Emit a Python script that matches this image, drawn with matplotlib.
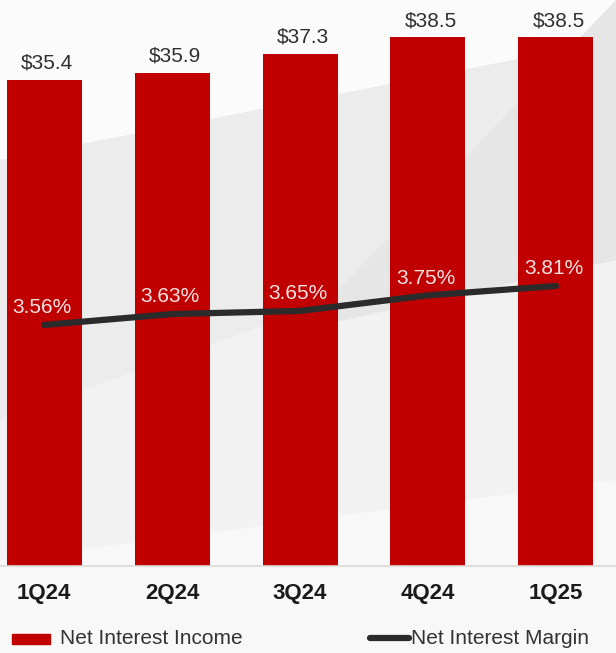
import numpy as np
import matplotlib
matplotlib.use('Agg')
import matplotlib.pyplot as plt
from matplotlib.patches import Polygon, Rectangle
from matplotlib.lines import Line2D

quarters = ['1Q24', '2Q24', '3Q24', '4Q24', '1Q25']
nii = [35.4, 35.9, 37.3, 38.5, 38.5]
nim = [3.56, 3.63, 3.65, 3.75, 3.81]

plt.rcParams['font.family'] = ['Liberation Sans', 'DejaVu Sans']

fig = plt.figure(figsize=(6.16, 6.53), dpi=100)
fig.patch.set_facecolor('#f4f4f4')

# soft background shapes
bg = fig.add_axes([0, 0, 1, 1], zorder=-5)
bg.set_xlim(0, 616)
bg.set_ylim(653, 0)
bg.axis('off')
bg.add_patch(Polygon([[0, 0], [616, 0], [616, 40], [0, 160]], closed=True, color='#fbfbfb', lw=0))
bg.add_patch(Polygon([[0, 160], [616, 40], [616, 200], [0, 420]], closed=True, color='#ececec', lw=0))
bg.add_patch(Polygon([[0, 420], [616, 200], [616, 653], [0, 653]], closed=True, color='#f2f2f2', lw=0))
bg.add_patch(Polygon([[300, 330], [616, 0], [616, 260]], closed=True, color='#e6e6e6', lw=0))
bg.add_patch(Polygon([[0, 560], [616, 480], [616, 653], [0, 653]], closed=True, color='#f8f8f8', lw=0))

x = np.arange(len(quarters))
ax = fig.add_axes([0, 87 / 653, 1, 566 / 653])
ax.patch.set_alpha(0)
ax.bar(x, nii, width=0.586, color='#c00000', zorder=2)
ax.set_xlim(-0.344, 4.469)
ax.set_ylim(0, 41.2)
for xi, v in zip(x, nii):
    ax.text(xi + 0.02, v + 0.8, '$' + format(v, '.1f'), ha='center', va='baseline',
            fontsize=15, color='#2f2f2f')

for s in ['top', 'right', 'left']:
    ax.spines[s].set_visible(False)
ax.spines['bottom'].set_color('#d9d9d9')
ax.spines['bottom'].set_linewidth(1.2)
ax.set_yticks([])
ax.set_xticks(x)
ax.set_xticklabels(quarters, fontsize=16, fontweight='bold', color='#1a1a1a')
ax.tick_params(axis='x', length=0, pad=12)

ax2 = ax.twinx()
ax2.set_ylim(2.015, 5.643)
ax2.plot(x, nim, color='#2b2b2b', lw=4.5, solid_capstyle='round', solid_joinstyle='round', zorder=3)
for s in ax2.spines.values():
    s.set_visible(False)
ax2.set_yticks([])
for xi, v in zip(x, nim):
    ax2.text(xi - 0.02, v + 0.11, format(v, '.2f') + '%', ha='center', va='center',
             fontsize=15, color='#f6e3e3')

# legend
ly = (653 - 638) / 653
fig.patches.append(Rectangle((12 / 616, (653 - 644) / 653), 38 / 616, 10 / 653,
                             transform=fig.transFigure, color='#c00000'))
fig.text(60 / 616, ly, 'Net Interest Income', fontsize=15,
         color='#333333', va='center', ha='left')
fig.lines.append(Line2D([370 / 616, 409 / 616], [ly, ly],
                        transform=fig.transFigure, color='#2b2b2b', lw=4.5,
                        solid_capstyle='round'))
fig.text(411 / 616, ly, 'Net Interest Margin', fontsize=15,
         color='#333333', va='center', ha='left')

fig.savefig('out.png', dpi=100, facecolor=fig.get_facecolor())
